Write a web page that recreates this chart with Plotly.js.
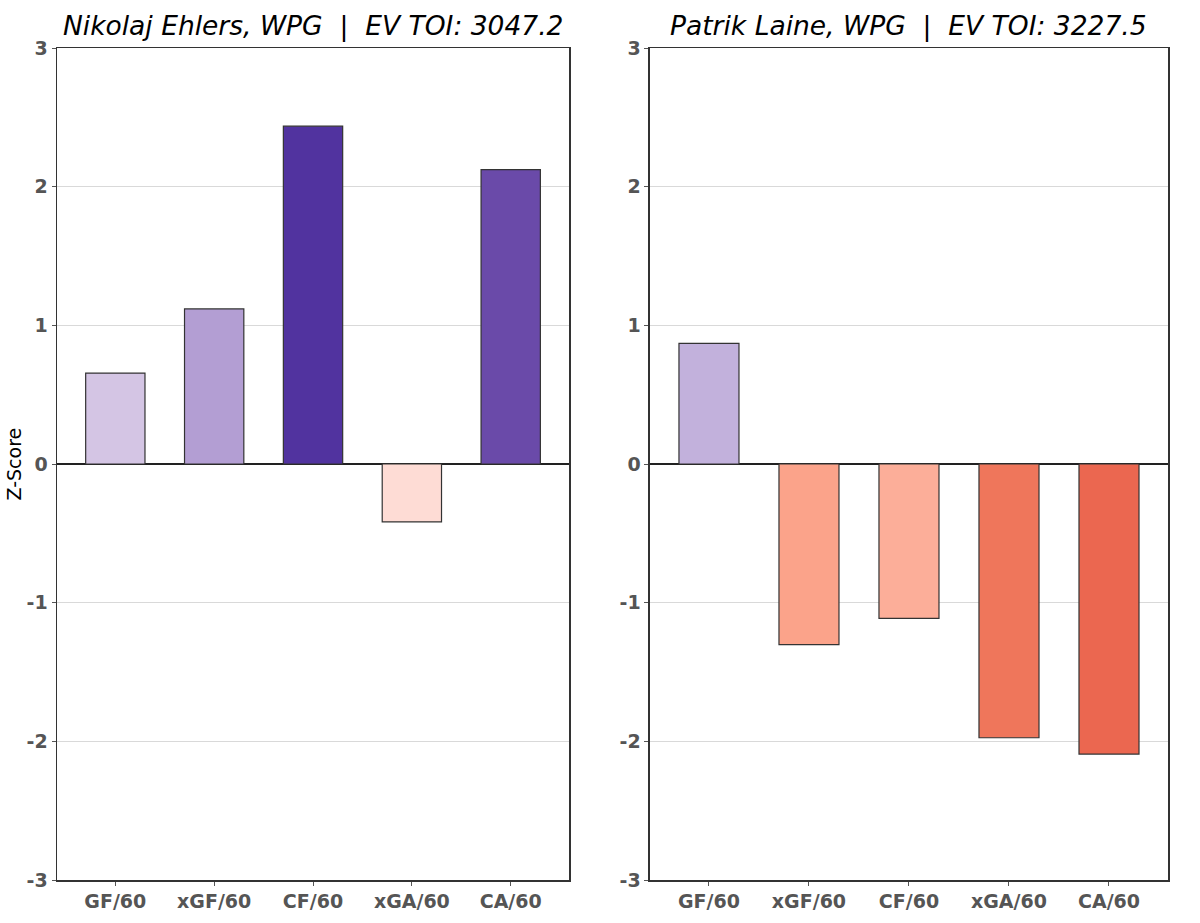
<!DOCTYPE html>
<html>
<head>
<meta charset="utf-8">
<script src="https://cdn.plot.ly/plotly-3.0.1.min.js"></script>
<style>html,body{margin:0;padding:0;background:#fff;}#chart{width:1200px;height:923px;}</style>
</head>
<body>
<div id="chart"></div>
<script>
const categories = ["GF/60", "xGF/60", "CF/60", "xGA/60", "CA/60"];
const ehlersValues = [0.656, 1.118, 2.436, -0.418, 2.123];
const laineValues = [0.870, -1.302, -1.113, -1.974, -2.092];
const ehlersColors = ["#d4c5e4", "#b39ed3", "#51339f", "#fedcd5", "#6a4aa9"];
const laineColors = ["#c2b1dc", "#fba38a", "#fcae99", "#ef765b", "#eb6750"];
const titles = ["Nikolaj Ehlers, WPG\u00a0\u00a0|\u00a0\u00a0EV TOI: 3047.2",
                "Patrik Laine, WPG\u00a0\u00a0|\u00a0\u00a0EV TOI: 3227.5"];
const yTicks = [-3, -2, -1, 0, 1, 2, 3];

const FONT = "DejaVu Sans, Liberation Sans, sans-serif";
const tickFont = {family: FONT, size: 19, color: "#555555", weight: "bold"};

const traces = [
  {type: "bar", x: categories, y: ehlersValues, xaxis: "x", yaxis: "y", width: 0.6,
   marker: {color: ehlersColors, line: {color: "#333333", width: 1.2}}, hoverinfo: "x+y"},
  {type: "bar", x: categories, y: laineValues, xaxis: "x2", yaxis: "y2", width: 0.6,
   marker: {color: laineColors, line: {color: "#333333", width: 1.2}}, hoverinfo: "x+y"}
];

const W = 1200, H = 923;
const mL = 56.5, mR = 31.5, mT = 48.4, mB = 42.8;
const plotW = W - mL - mR;
const d1 = [0, (569 - mL) / plotW];
const d2 = [(650 - mL) / plotW, 1];

function xax(domain, anchor) {
  return {domain: domain, anchor: anchor, range: [-0.59, 4.59], showgrid: false, zeroline: false,
    showline: true, linecolor: "#333333", linewidth: 1.5, mirror: true,
    ticks: "outside", ticklen: 4, tickcolor: "#555555", tickwidth: 1,
    tickfont: tickFont, fixedrange: true};
}
function yax(anchor) {
  return {anchor: anchor, range: [-3, 3], tickvals: yTicks, ticktext: yTicks.map(String),
    showgrid: true, gridcolor: "#d9d9d9", gridwidth: 1,
    zeroline: true, zerolinecolor: "#222222", zerolinewidth: 1.5,
    showline: true, linecolor: "#333333", linewidth: 1.5, mirror: true,
    ticks: "outside", ticklen: 4, tickcolor: "#555555", tickwidth: 1,
    tickfont: tickFont, fixedrange: true};
}

const layout = {
  width: W, height: H,
  margin: {l: mL, r: mR, t: mT, b: mB, pad: 0},
  paper_bgcolor: "#ffffff", plot_bgcolor: "#ffffff",
  showlegend: false, bargap: 0.4,
  xaxis: xax(d1, "y"), yaxis: yax("x"),
  xaxis2: xax(d2, "y2"), yaxis2: yax("x2"),
  annotations: [
    {text: titles[0], xref: "paper", yref: "paper", x: (d1[0] + d1[1]) / 2, y: 1,
     xanchor: "center", yanchor: "bottom", yshift: 4, showarrow: false,
     font: {family: FONT, size: 26.5, color: "#000000", style: "italic"}},
    {text: titles[1], xref: "paper", yref: "paper", x: (d2[0] + d2[1]) / 2, y: 1,
     xanchor: "center", yanchor: "bottom", yshift: 4, showarrow: false,
     font: {family: FONT, size: 26.5, color: "#000000", style: "italic"}},
    {text: "Z-Score", xref: "paper", yref: "paper", x: (13 - mL) / plotW, y: 0.5,
     xanchor: "center", yanchor: "middle", textangle: -90, showarrow: false,
     font: {family: FONT, size: 19, color: "#000000"}}
  ]
};

Plotly.newPlot("chart", traces, layout, {displayModeBar: false, staticPlot: true});
</script>
</body>
</html>
